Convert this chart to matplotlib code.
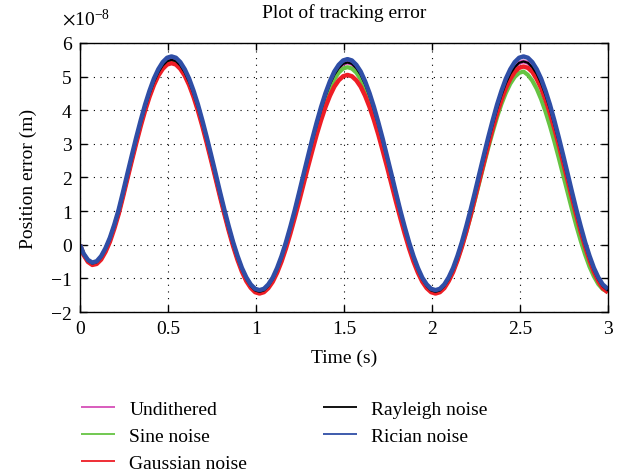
import numpy as np
import matplotlib
matplotlib.use('Agg')
import matplotlib.pyplot as plt
from matplotlib.ticker import MultipleLocator, FuncFormatter

plt.rcParams['font.family'] = ['Liberation Serif', 'DejaVu Serif']
plt.rcParams['mathtext.fontset'] = 'stix'
FS = 14

# sample times (s): 0, every 0.025 s from 0.02 to 2.97, then 3
time = [0.0] + [round(0.02 + 0.025 * k, 3) for k in range(119)] + [3.0]

# position error in units of 1e-8 m, one row per half cycle
undithered = [0,
    -0.28, -0.48, -0.56, -0.52, -0.38, -0.14, 0.16, 0.55, 0.98, 1.51, 2.05, 2.59, 3.12, 3.62, 4.08, 4.49, 4.84, 5.12, 5.33, 5.46, 5.50,
    5.46, 5.33, 5.12, 4.84, 4.49, 4.08, 3.62, 3.12, 2.59, 2.05, 1.51, 0.98, 0.48, 0.02, -0.39, -0.74, -1.02, -1.23, -1.36, -1.40,
    -1.36, -1.23, -1.03, -0.75, -0.40, 0.01, 0.46, 0.96, 1.48, 2.01, 2.54, 3.06, 3.56, 4.01, 4.42, 4.77, 5.05, 5.25, 5.38, 5.42,
    5.38, 5.25, 5.05, 4.77, 4.42, 4.01, 3.56, 3.06, 2.54, 2.01, 1.48, 0.96, 0.46, 0.01, -0.40, -0.75, -1.03, -1.23, -1.36, -1.40,
    -1.36, -1.23, -1.03, -0.75, -0.40, 0.01, 0.47, 0.97, 1.49, 2.03, 2.56, 3.08, 3.58, 4.04, 4.45, 4.80, 5.08, 5.28, 5.41, 5.45,
    5.41, 5.28, 5.08, 4.80, 4.45, 4.04, 3.58, 3.08, 2.56, 2.03, 1.49, 0.97, 0.47, 0.01, -0.40, -0.75, -1.03, -1.23,
    -1.37]
sine = [0,
    -0.28, -0.48, -0.56, -0.52, -0.38, -0.14, 0.16, 0.55, 0.97, 1.49, 2.03, 2.56, 3.08, 3.58, 4.04, 4.45, 4.80, 5.08, 5.28, 5.41, 5.45,
    5.41, 5.28, 5.08, 4.80, 4.45, 4.04, 3.58, 3.08, 2.56, 2.03, 1.49, 0.97, 0.47, 0.01, -0.40, -0.75, -1.03, -1.23, -1.36, -1.40,
    -1.36, -1.24, -1.04, -0.76, -0.42, -0.02, 0.42, 0.91, 1.42, 1.94, 2.46, 2.97, 3.46, 3.90, 4.30, 4.64, 4.92, 5.12, 5.24, 5.28,
    5.24, 5.12, 4.92, 4.64, 4.30, 3.90, 3.46, 2.97, 2.46, 1.94, 1.42, 0.91, 0.42, -0.02, -0.42, -0.76, -1.04, -1.24, -1.36, -1.40,
    -1.36, -1.24, -1.04, -0.77, -0.44, -0.05, 0.39, 0.86, 1.36, 1.88, 2.39, 2.89, 3.36, 3.80, 4.19, 4.52, 4.79, 4.99, 5.11, 5.15,
    5.05, 4.88, 4.64, 4.33, 3.96, 3.54, 3.08, 2.59, 2.08, 1.57, 1.06, 0.57, 0.12, -0.29, -0.65, -0.94, -1.17, -1.32,
    -1.40]
gaussian = [0,
    -0.30, -0.51, -0.60, -0.57, -0.44, -0.21, 0.09, 0.48, 0.92, 1.44, 1.98, 2.51, 3.03, 3.53, 3.99, 4.40, 4.75, 5.03, 5.23, 5.36, 5.40,
    5.36, 5.23, 5.03, 4.75, 4.40, 3.99, 3.53, 3.03, 2.51, 1.98, 1.44, 0.92, 0.42, -0.04, -0.45, -0.80, -1.08, -1.28, -1.41, -1.45,
    -1.41, -1.29, -1.10, -0.83, -0.50, -0.11, 0.33, 0.80, 1.29, 1.80, 2.31, 2.80, 3.28, 3.71, 4.10, 4.43, 4.70, 4.89, 5.01, 5.05,
    5.01, 4.89, 4.70, 4.43, 4.10, 3.71, 3.28, 2.80, 2.31, 1.80, 1.29, 0.80, 0.33, -0.11, -0.50, -0.83, -1.10, -1.29, -1.41, -1.45,
    -1.41, -1.29, -1.08, -0.81, -0.46, -0.06, 0.39, 0.88, 1.40, 1.93, 2.45, 2.97, 3.46, 3.91, 4.31, 4.66, 4.93, 5.14, 5.26, 5.30,
    5.26, 5.14, 4.93, 4.66, 4.31, 3.91, 3.46, 2.97, 2.45, 1.93, 1.40, 0.88, 0.39, -0.06, -0.46, -0.81, -1.08, -1.29,
    -1.42]
rayleigh = [0,
    -0.28, -0.48, -0.56, -0.52, -0.38, -0.14, 0.16, 0.55, 0.98, 1.51, 2.05, 2.59, 3.12, 3.62, 4.08, 4.49, 4.84, 5.12, 5.33, 5.46, 5.50,
    5.46, 5.33, 5.12, 4.84, 4.49, 4.08, 3.62, 3.12, 2.59, 2.05, 1.51, 0.98, 0.48, 0.02, -0.39, -0.74, -1.02, -1.23, -1.36, -1.40,
    -1.36, -1.23, -1.03, -0.75, -0.40, 0.01, 0.46, 0.96, 1.48, 2.01, 2.54, 3.06, 3.56, 4.01, 4.42, 4.77, 5.05, 5.25, 5.38, 5.42,
    5.38, 5.25, 5.05, 4.77, 4.42, 4.01, 3.56, 3.06, 2.54, 2.01, 1.48, 0.96, 0.46, 0.01, -0.40, -0.75, -1.03, -1.23, -1.36, -1.40,
    -1.36, -1.23, -1.03, -0.75, -0.40, 0.01, 0.47, 0.97, 1.49, 2.03, 2.56, 3.08, 3.58, 4.04, 4.45, 4.80, 5.08, 5.28, 5.41, 5.45,
    5.41, 5.28, 5.08, 4.80, 4.45, 4.04, 3.58, 3.08, 2.56, 2.03, 1.49, 0.97, 0.47, 0.01, -0.40, -0.75, -1.03, -1.23,
    -1.37]
rician = [0,
    -0.26, -0.45, -0.53, -0.49, -0.34, -0.10, 0.21, 0.60, 1.05, 1.58, 2.13, 2.67, 3.20, 3.70, 4.17, 4.58, 4.94, 5.22, 5.43, 5.56, 5.60,
    5.56, 5.43, 5.22, 4.94, 4.58, 4.17, 3.70, 3.20, 2.67, 2.13, 1.58, 1.05, 0.55, 0.08, -0.33, -0.69, -0.97, -1.18, -1.31, -1.35,
    -1.31, -1.18, -0.98, -0.69, -0.34, 0.07, 0.53, 1.02, 1.55, 2.09, 2.62, 3.15, 3.64, 4.10, 4.51, 4.86, 5.15, 5.35, 5.48, 5.52,
    5.48, 5.35, 5.15, 4.86, 4.51, 4.10, 3.64, 3.15, 2.62, 2.09, 1.55, 1.02, 0.53, 0.07, -0.34, -0.69, -0.98, -1.18, -1.31, -1.35,
    -1.31, -1.18, -0.97, -0.69, -0.33, 0.08, 0.55, 1.05, 1.58, 2.13, 2.67, 3.20, 3.70, 4.17, 4.58, 4.94, 5.22, 5.43, 5.56, 5.60,
    5.56, 5.43, 5.22, 4.94, 4.58, 4.17, 3.70, 3.20, 2.67, 2.13, 1.58, 1.05, 0.55, 0.08, -0.33, -0.69, -0.97, -1.18,
    -1.32]

labels = ['Undithered', 'Sine noise', 'Gaussian noise', 'Rayleigh noise', 'Rician noise']
colors = ['#d64fb8', '#66c443', '#ee1d25', '#000000', '#2f4ea6']
widths = [3.0, 3.0, 3.2, 1.6, 3.2]

fig = plt.figure(figsize=(6.26, 4.77), dpi=100)
ax = fig.add_axes([0.1278, 0.3438, 0.8434, 0.5640])

t = np.array(time)
for y, lab, c, w in zip([undithered, sine, gaussian, rayleigh, rician], labels, colors, widths):
    ax.plot(t, np.array(y) * 1e-8, color=c, lw=w, label=lab, solid_capstyle='butt')

ax.set_xlim(0, 3)
ax.set_ylim(-2e-8, 6e-8)
ax.xaxis.set_major_locator(MultipleLocator(0.5))
ax.yaxis.set_major_locator(MultipleLocator(1e-8))
ax.xaxis.set_major_formatter(FuncFormatter(lambda v, p: f'{v:g}'))
ax.yaxis.set_major_formatter(FuncFormatter(lambda v, p: f'{round(v * 1e8):d}'.replace('-', '\u2212')))
ax.text(-0.034, 1.07, r'$\times\mathdefault{10^{-8}}$', transform=ax.transAxes,
        fontsize=FS, ha='left', va='baseline')

ax.tick_params(direction='in', top=True, right=True, length=5, width=1, labelsize=FS)
ax.tick_params(axis='x', pad=6)
ax.tick_params(axis='y', pad=6)
ax.grid(True, color='black', linestyle=(0, (1, 5)), lw=0.8)
for s in ax.spines.values():
    s.set_linewidth(1.0)

ax.set_title('Plot of tracking error', fontsize=FS, y=1.0, pad=18.5)
ax.set_xlabel('Time (s)', fontsize=FS, labelpad=8)
ax.set_ylabel('Position error (m)', fontsize=FS, labelpad=10)

leg = fig.legend(loc='upper left', bbox_to_anchor=(0.129, 0.158), ncol=2, frameon=False,
                 handlelength=1.77, handletextpad=0.72, columnspacing=3.9,
                 labelspacing=0.47, fontsize=FS, borderaxespad=0, borderpad=0)
for line in leg.get_lines():
    line.set_linewidth(1.3)

fig.savefig('out.png', dpi=100)
